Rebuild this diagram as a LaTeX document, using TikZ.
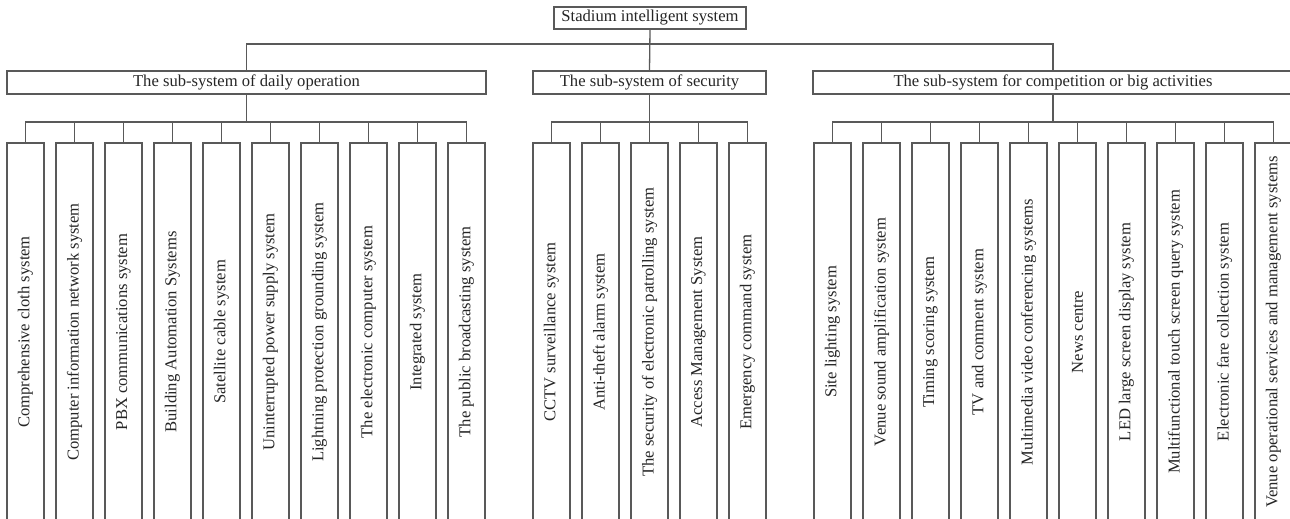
\documentclass[tikz,border=0pt]{standalone}
\usepackage{fontspec}
\setmainfont{Liberation Serif}
\usepackage{graphicx}
\begin{document}
\begin{tikzpicture}[x=1pt,y=-1pt,
  every node/.style={font=\fontsize{16.6}{20}\selectfont, text=black!85},
  box/.style={draw=black!65, line width=1.3pt, inner sep=0pt, rectangle},
  leafbox/.style={box, minimum width=37pt, minimum height=378pt},
  conn/.style={draw=black!65, line width=1.3pt}]
\useasboundingbox (0,0) rectangle (1290,519);
\path[clip] (0,0) rectangle (1290,519);
\fill[white] (0,0) rectangle (1290,519);
% top
\node[box, minimum width=192pt, minimum height=22pt] (top) at (650,18) {Stadium intelligent system};
% subsystems
\node[box, minimum width=479pt, minimum height=23pt] (s1) at (246.5,82.5) {The sub-system of daily operation};
\node[box, minimum width=233pt, minimum height=23pt] (s2) at (649.5,82.5) {The sub-system of security};
\node[box, minimum width=480pt, minimum height=23pt] (s3) at (1053,82.5) {The sub-system for competition or big activities};
\coordinate (tb) at (650,44);
\draw[conn] (top.south) -- (s2.north);
\draw[conn] (s1.north) |- (tb) -| (s3.north);
% bars
\coordinate (b1) at (246.5,122);
\coordinate (b2) at (649.5,122);
\coordinate (b3) at (1053,122);
\draw[conn] (s1.south) -- (b1);
\draw[conn] (s2.south) -- (b2);
\draw[conn] (s3.south) -- (b3);
% group 1
\foreach \t [count=\i from 0] in {Comprehensive cloth system, Computer information network system, PBX communications system, Building Automation Systems, Satellite cable system, Uninterrupted power supply system, Lightning protection grounding system, The electronic computer system, Integrated system, The public broadcasting system}{
  \node[leafbox] (a\i) at ({25.5+49*\i},332) {\rotatebox{90}{\t}};
  \draw[conn] (a\i.north) |- (b1);
}
% group 2
\foreach \t [count=\i from 0] in {CCTV surveillance system, Anti-theft alarm system, The security of electronic patrolling system, Access Management System, Emergency command system}{
  \node[leafbox] (c\i) at ({551.5+49*\i},332) {\rotatebox{90}{\t}};
  \draw[conn] (c\i.north) |- (b2);
}
% group 3
\foreach \t [count=\i from 0] in {Site lighting system, Venue sound amplification system, Timing scoring system, TV and comment system, Multimedia video conferencing systems, News centre, LED large screen display system, Multifunctional touch screen query system, Electronic fare collection system, Venue operational services and management systems}{
  \node[leafbox] (d\i) at ({832.5+49*\i},332) {\rotatebox{90}{\t}};
  \draw[conn] (d\i.north) |- (b3);
}
\end{tikzpicture}
\end{document}
